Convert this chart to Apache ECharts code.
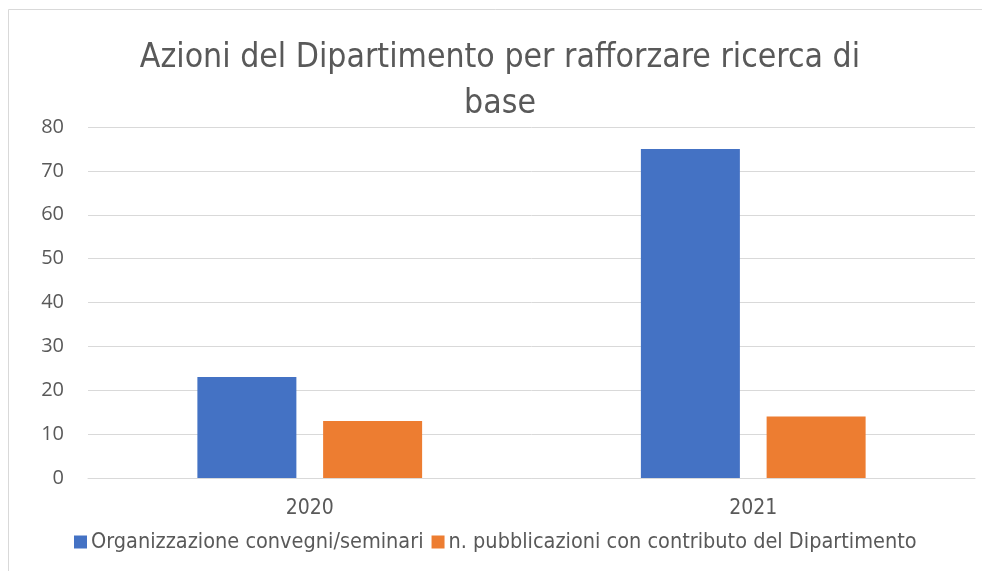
<!DOCTYPE html>
<html><head><meta charset="utf-8">
<script src="https://cdn.jsdelivr.net/npm/echarts@6/dist/echarts.min.js"></script>
<style>html,body{margin:0;padding:0;background:#fff}#c{width:982px;height:571px}</style>
</head><body><div id="c"></div>
<script>
const categories = ['2020', '2021'];
const seriesNames = ['Organizzazione convegni/seminari', 'n. pubblicazioni con contributo del Dipartimento'];
const convegni = [23, 75];
const pubblicazioni = [13, 14];
const titleText = 'Azioni del Dipartimento per rafforzare ricerca di\nbase';

const narrow = '"DejaVu Sans Condensed", sans-serif';
const chart = echarts.init(document.getElementById('c'), null, {renderer: 'canvas'});
chart.setOption({
  animation: false,
  backgroundColor: '#fff',
  graphic: [{type: 'rect', shape: {x: 8.5, y: 9.5, width: 990, height: 600}, style: {fill: 'none', stroke: '#d9d9d9', lineWidth: 1}}],
  title: {text: titleText, left: 500, textAlign: 'center', top: 35, padding: 0,
    textStyle: {fontFamily: narrow, fontSize: 33.5, fontWeight: 'normal', color: '#595959', lineHeight: 46}},
  grid: {left: 88, right: 7, top: 127, bottom: 93, containLabel: false},
  legend: {bottom: 18, left: 74, padding: 0, itemWidth: 13, itemHeight: 13, itemGap: 8, icon: 'rect',
    textStyle: {fontFamily: narrow, fontSize: 21.5, color: '#595959', padding: [0, 0, 0, -1]}},
  xAxis: {type: 'category', data: categories,
    axisLine: {lineStyle: {color: '#d9d9d9', width: 1}}, axisTick: {show: false},
    axisLabel: {fontFamily: narrow, fontSize: 21, color: '#595959', margin: 20}},
  yAxis: {type: 'value', min: 0, max: 80, interval: 10,
    axisLine: {show: false}, axisTick: {show: false},
    splitLine: {lineStyle: {color: '#d9d9d9', width: 1}},
    axisLabel: {fontFamily: '"Open Sans", "DejaVu Sans", sans-serif', fontSize: 20, color: '#595959', margin: 24}},
  series: [
    {name: seriesNames[0], type: 'bar', data: convegni, barWidth: 99, barGap: '27%', itemStyle: {color: '#4472c4'}},
    {name: seriesNames[1], type: 'bar', data: pubblicazioni, barWidth: 99, barGap: '27%', itemStyle: {color: '#ed7d31'}}
  ]
});
</script></body></html>
